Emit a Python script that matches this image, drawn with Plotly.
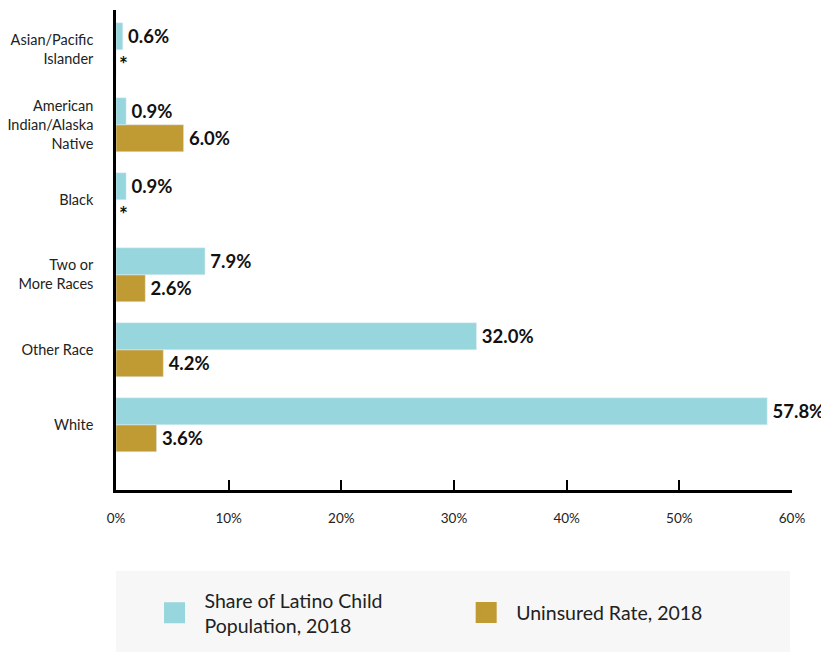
import plotly.graph_objects as go

categories = ["White", "Other Race", "Two or<br>More Races", "Black",
              "American<br>Indian/Alaska<br>Native", "Asian/Pacific<br>Islander"]
share_pop = [57.8, 32.0, 7.9, 0.9, 0.9, 0.6]
uninsured = [3.6, 4.2, 2.6, None, 6.0, None]
series_names = ["Share of Latino Child<br>Population, 2018", "Uninsured Rate, 2018"]
x_ticks = [0, 10, 20, 30, 40, 50, 60]
x_tick_labels = ["0%", "10%", "20%", "30%", "40%", "50%", "60%"]

TEAL = "#97d6dc"
GOLD = "#c09a32"
FONT = "Lato, 'Open Sans', sans-serif"

def labels(vals):
    return ["*" if v is None else "\u2009%.1f%%" % v for v in vals]

def label_sizes(vals):
    return [21 if v is None else 18.5 for v in vals]

fig = go.Figure()
# horizontal grouped bars: first trace is drawn at the bottom of each group
fig.add_trace(go.Bar(
    y=categories, x=[0 if v is None else v for v in uninsured], orientation="h",
    name=series_names[1], showlegend=False,
    marker=dict(color=GOLD), text=labels(uninsured), textposition="outside",
    textfont=dict(size=label_sizes(uninsured), color="#111", family=FONT, weight="bold"),
    cliponaxis=False, constraintext="none",
))
fig.add_trace(go.Bar(
    y=categories, x=share_pop, orientation="h",
    name=series_names[0], showlegend=False,
    marker=dict(color=TEAL), text=labels(share_pop), textposition="outside",
    textfont=dict(size=label_sizes(share_pop), color="#111", family=FONT, weight="bold"),
    cliponaxis=False, constraintext="none",
))
# legend entries with larger square swatches
for name, color, lg in [(series_names[0], TEAL, "legend"), (series_names[1], GOLD, "legend2")]:
    fig.add_trace(go.Scatter(
        x=[None], y=[None], mode="markers", name="\u00a0\u00a0" + name.replace("<br>", "<br>\u00a0\u00a0"),
        legend=lg, showlegend=True,
        marker=dict(symbol="square", size=16, color=color, line=dict(color=color, width=5)),
    ))

legend_common = dict(orientation="h", xanchor="left", y=-0.256, yanchor="middle",
                     bgcolor="rgba(0,0,0,0)", itemsizing="trace",
                     font=dict(size=19.5, color="#222", family=FONT))

fig.update_layout(
    width=821, height=644,
    margin=dict(l=108, r=37, t=2, b=162),
    paper_bgcolor="white", plot_bgcolor="white",
    barmode="group", bargap=0.28, bargroupgap=0,
    font=dict(family=FONT, color="#222"),
    xaxis=dict(range=[0, 60], tickvals=x_ticks, ticktext=x_tick_labels, automargin=False,
               showgrid=False, zeroline=False, showline=True, linecolor="black", linewidth=2.5,
               ticks="inside", ticklen=10, tickwidth=2, tickcolor="black",
               tickfont=dict(size=13.5, color="#222"), ticklabelstandoff=14),
    yaxis=dict(type="category", categoryorder="array", categoryarray=categories,
               range=[-0.87, 5.53], showgrid=False, zeroline=False, automargin=False,
               showline=True, linecolor="black", linewidth=2.5, ticks="",
               tickfont=dict(size=14.5, color="#222"), ticklabelstandoff=17),
    showlegend=True,
    legend=dict(x=0.057, **legend_common),
    legend2=dict(x=0.518, **legend_common),
    shapes=[dict(type="rect", xref="paper", yref="paper", x0=0, x1=0.997,
                 y0=-0.169, y1=-0.3375, fillcolor="#f7f7f7", line=dict(width=0), layer="below")],
)

fig.write_html("out.html")
